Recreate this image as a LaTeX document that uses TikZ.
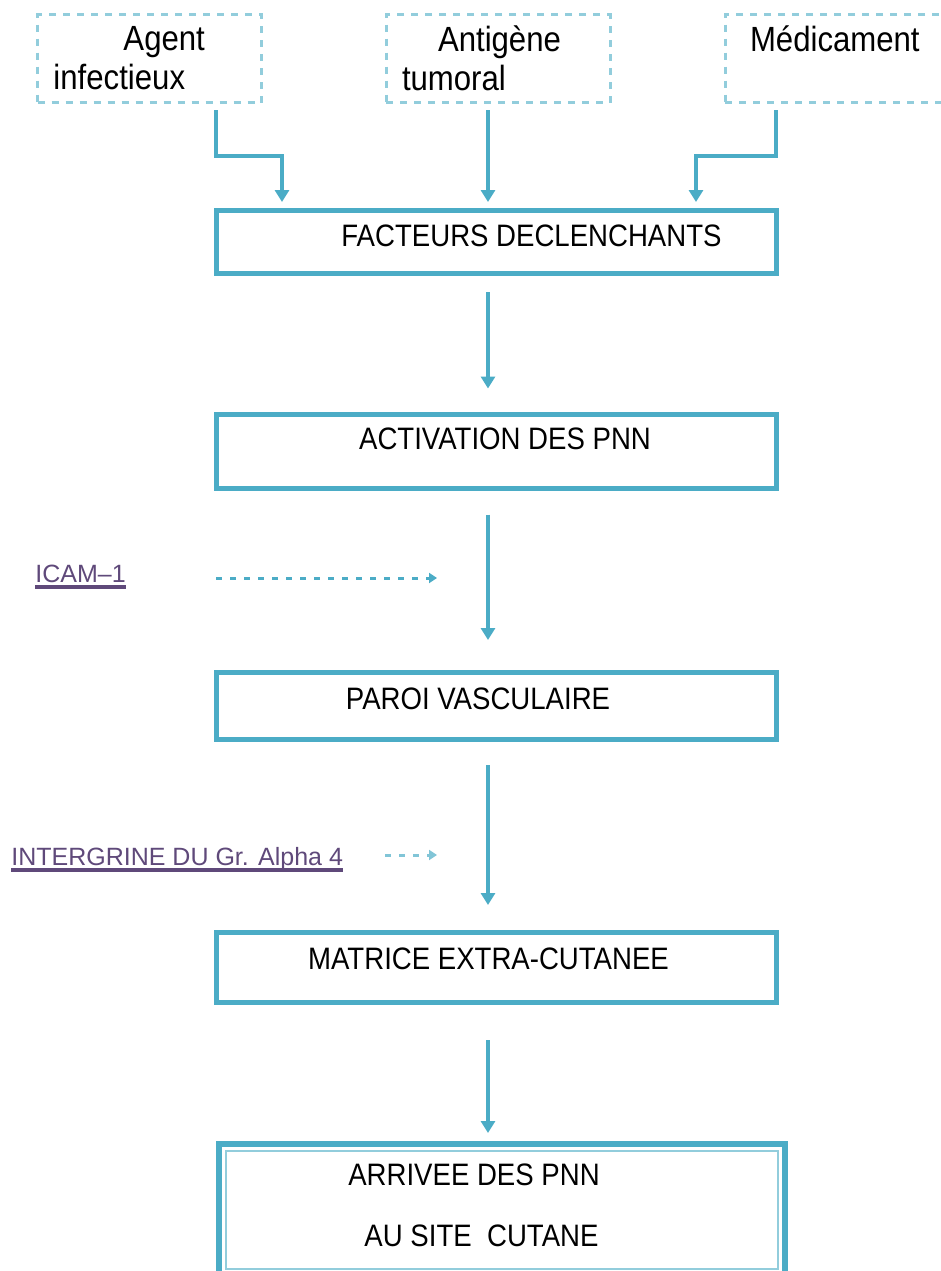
\documentclass[tikz,border=0pt]{standalone}
\usepackage{fontspec}
\setmainfont{Liberation Sans}
\newfontfamily\condfont{Liberation Sans}[FakeStretch=0.89]
\usetikzlibrary{arrows.meta}
\definecolor{boxblue}{RGB}{75,172,198}
\definecolor{paleblue}{RGB}{146,205,220}
\definecolor{labelpurple}{RGB}{95,73,122}
\newcommand\thickul[1]{\setbox0\hbox{#1}\rlap{\vrule height -1.5pt depth 3.5pt width \wd0}\box0}
\tikzset{
  srcbox/.style={draw=paleblue, line width=1.5pt, dash pattern=on 3.5pt off 3.5pt,
    minimum width=112pt, minimum height=44pt, text width=96pt, align=left, inner sep=0pt,
    font=\condfont\fontsize{17.5}{19.5}\selectfont},
  stage/.style={draw=boxblue, line width=2.5pt, minimum width=280pt, inner sep=0pt,
    font=\condfont\fontsize{15.5}{18}\selectfont},
  flow/.style={draw=boxblue, line width=2pt, -{Triangle[width=7pt,length=6pt]}},
  hint/.style={draw=boxblue, line width=1.5pt, dash pattern=on 3pt off 4pt, -{Triangle[width=5pt,length=4pt]}},
  tag/.style={inner sep=0pt, anchor=base west, text=labelpurple, font=\fontsize{12.5}{15}\selectfont}
}
\begin{document}
\begin{tikzpicture}[x=0.5pt, y=-0.5pt]
\useasboundingbox (0,0) rectangle (941,1271);
\clip (0,0) rectangle (941,1271);

% Sources at the top
\node[srcbox] (agent) at (149.5,58.5) {\hspace*{35pt}Agent\\infectieux};
\node[srcbox] (antigene) at (498,58.5) {\hspace*{18pt}Antigène\\tumoral};
\node[srcbox] (medicament) at (837,58.5) {\hspace*{4.5pt}Médicament\\~};

% Stages
\node[stage, minimum height=31.5pt, text depth=6pt] (facteurs) at (496,242) {\hspace*{35.5pt}FACTEURS DECLENCHANTS};
\node[stage, minimum height=37pt, text depth=12.5pt] (activation) at (496,451) {\hspace*{9pt}ACTIVATION DES PNN};
\node[stage, minimum height=33.5pt, text depth=7.5pt] (paroi) at (496,706) {PAROI VASCULAIRE\hspace*{18pt}};
\node[stage, minimum height=35pt, text depth=9pt] (matrice) at (496,967.5) {MATRICE EXTRA-CUTANEE\hspace*{7.5pt}};
\node[stage, line width=3pt, minimum width=283pt, minimum height=66pt, align=center, text depth=4.5pt] (arrivee) at (502,1210)
  {\hspace*{-28pt}ARRIVEE DES PNN\\[12.5pt]\hspace*{-20.5pt}AU SITE~ CUTANE};
\draw[paleblue, line width=1.2pt] ([shift={(5pt,-5pt)}]arrivee.north west) rectangle ([shift={(-5pt,5pt)}]arrivee.south east);

% Sources to the first stage
\draw[flow, shorten <=3pt, shorten >=3pt] ([xshift=33.25pt]agent.south) -- ++(0,52) -| ([xshift=-107pt]facteurs.north);
\draw[flow, shorten <=3pt, shorten >=3pt] ([xshift=-5pt]antigene.south) -- ([xshift=-4pt]facteurs.north);
\draw[flow, shorten <=3pt, shorten >=3pt] ([xshift=-30.5pt]medicament.south) -- ++(0,52) -| ([xshift=100pt]facteurs.north);

% Stage to stage
\foreach \from/\to/\s/\e in {facteurs/activation/8pt/11.5pt, activation/paroi/12pt/15pt,
                             paroi/matrice/11.5pt/12.5pt, matrice/arrivee/17.5pt/4pt}
  \draw[flow, shorten <=\s, shorten >=\e] ([xshift=-4pt]\from.south) -- ([xshift=-4pt]\from.south |- \to.north);

% Side labels
\node[tag] (icam) at (35,582) {\thickul{ICAM–1}};
\coordinate (icam-tip) at (437,578);
\draw[hint, shorten <=45pt] (icam.east |- icam-tip) -- (icam-tip);

\node[tag] (integrine) at (11,865) {\thickul{INTERGRINE DU Gr. Alpha 4}};
\coordinate (integrine-tip) at (437,855);
\draw[hint, draw=boxblue!70, shorten <=21pt] (integrine.east |- integrine-tip) -- (integrine-tip);

\end{tikzpicture}
\end{document}
